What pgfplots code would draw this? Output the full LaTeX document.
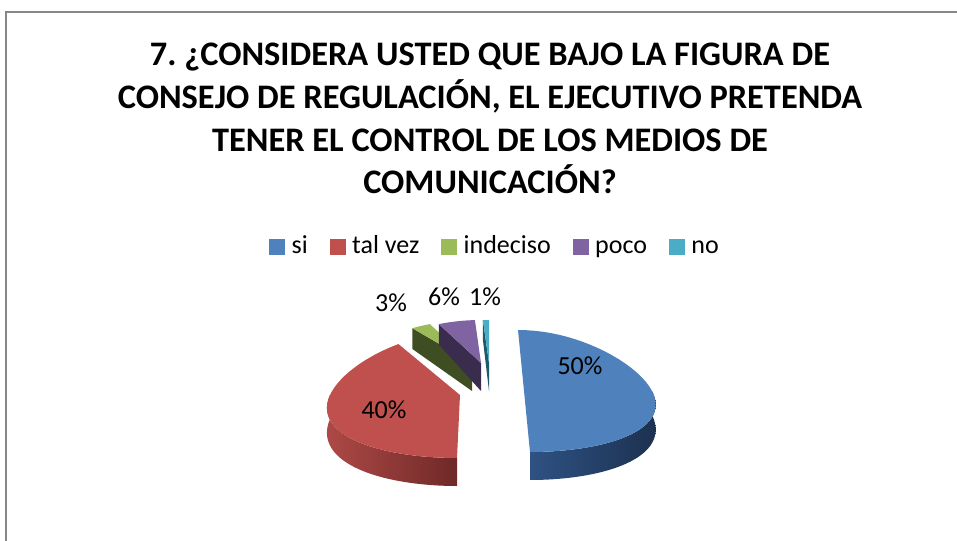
\documentclass[border=0pt]{standalone}
\usepackage{fontspec}
\setmainfont{Carlito}
\usepackage{pgfplots}
\pgfplotsset{compat=1.18}
\definecolor{cblue}{HTML}{4F81BD}
\definecolor{cred}{HTML}{C0504D}
\definecolor{cgreen}{HTML}{9BBB59}
\definecolor{cpurple}{HTML}{8064A2}
\definecolor{ccyan}{HTML}{4BACC6}
\definecolor{cgreenD}{HTML}{3F4D22}
\definecolor{cpurpleD}{HTML}{3A2C4C}
\definecolor{ccyanD}{HTML}{1F5A6A}
\definecolor{bwallL}{HTML}{2E5283}
\definecolor{bwallR}{HTML}{1D3150}
\definecolor{rwallL}{HTML}{AD4946}
\definecolor{rwallR}{HTML}{6F2928}
\definecolor{framegray}{HTML}{878787}
% #1 cx, #2 cy, #3 a, #4 b, #5 start angle, #6 end angle, #7 perspective, #8 skew, #9 style
\newcommand\slicetop[9]{%
\addplot[forget plot, draw=none, #9, variable=\t, samples at={-1,0,1,...,40}]
 ({(\t<0)?(#1):(rx(#1,#3,#7,#8,#5+\t/40*(#6-#5)))},
  {(\t<0)?(#2):(ry(#2,#4,#5+\t/40*(#6-#5)))}) -- cycle;}
\newcommand\slicewall[9]{%
\addplot[forget plot, draw=none, #9, variable=\t, samples at={0,1,...,80}]
 ({rx(#1,#3,#7,#8,wa(\t,#5,#6))},
  {ry(#2,#4,wa(\t,#5,#6))+(\t>40)*hh(wa(\t,#5,#6))}) -- cycle;}
\newcommand\sliceface[9]{%
\addplot[forget plot, draw=none, #9, variable=\t, samples at={0,1,2,3}]
 ({((\t>0.5)&&(\t<2.5))?(rx(#1,#3,#7,#8,#5)):(#1)},
  {(\t<0.5)?(#2):((\t<1.5)?(ry(#2,#4,#5)):((\t<2.5)?(ry(#2,#4,#5)+hh(#5)):(#2+28)))}) -- cycle;}
\newcommand\legbox[1]{\addlegendimage{legend image code/.code={\fill[#1] (0bp,-1bp) rectangle (15bp,14bp);}}}
\begin{document}
\frenchspacing
\begin{tikzpicture}
\begin{axis}[
  at={(0,0)}, anchor=south west,
  width=957bp, height=541bp, scale only axis,
  xmin=0, xmax=957, ymin=0, ymax=541, y dir=reverse,
  hide axis, clip=false,
  declare function={
    rx(\mA,\mB,\mC,\mD,\mE)=\mA+\mB*sin(\mE)*(1-\mC*cos(\mE))-\mD*cos(\mE);
    ry(\mA,\mB,\mE)=\mA-\mB*cos(\mE);
    hh(\mE)=24-4*cos(\mE);
    wa(\mT,\mS,\mF)=(\mT<=40)?(\mS+\mT/40*(\mF-\mS)):(\mF-(\mT-41)/39*(\mF-\mS));
  },
  legend columns=-1,
  legend style={at={(axis cs:494,247)}, anchor=center, draw=none, fill=none,
    font=\fontsize{26bp}{30bp}\selectfont, inner sep=0pt,
    nodes={inner sep=0pt, text height=19bp, text depth=6bp, anchor=base west},
    /tikz/every odd column/.style={column sep=7bp},
    /tikz/every even column/.style={column sep=22bp}},
]
\legbox{cblue}
\addlegendentry{si}
\legbox{cred}
\addlegendentry{tal vez}
\legbox{cgreen}
\addlegendentry{indeciso}
\legbox{cpurple}
\addlegendentry{poco}
\legbox{ccyan}
\addlegendentry{no}

% tal vez 40%
\slicewall{460}{395}{130}{63}{3.6*50}{270}{0.2}{-3}{left color=rwallL, right color=rwallR}
\slicetop{460}{395}{130}{63}{3.6*50}{3.6*90}{0.2}{-3}{fill=cred}
% indeciso 3%
\sliceface{472}{363}{121}{43}{3.6*90}{3.6*93}{0.2}{0}{fill=cgreenD}
\slicetop{472}{363}{121}{43}{3.6*90}{3.6*93}{0.2}{0}{fill=cgreen}
% poco 6%
\sliceface{481}{363}{121}{43}{3.6*93}{3.6*99}{0.2}{0}{fill=cpurpleD}
\slicetop{481}{363}{121}{43}{3.6*93}{3.6*99}{0.2}{0}{fill=cpurple}
% no 1%
\sliceface{489}{363}{121}{43}{3.6*99}{3.6*100}{0.2}{0}{fill=ccyanD}
\slicetop{489}{363}{121}{43}{3.6*99}{3.6*100}{0.2}{0}{fill=ccyan}
% si 50%
\slicewall{524}{391}{128}{61}{90}{3.6*50}{0.2}{6}{left color=bwallL, right color=bwallR}
\slicetop{524}{391}{128}{61}{0}{3.6*50}{0.2}{6}{fill=cblue}

% data labels
\node[font=\fontsize{26bp}{30bp}\selectfont] at (axis cs:580,366) {50\%};
\node[font=\fontsize{26bp}{30bp}\selectfont] at (axis cs:384,410) {40\%};
\node[font=\fontsize{26bp}{30bp}\selectfont] at (axis cs:391,303) {3\%};
\node[font=\fontsize{26bp}{30bp}\selectfont] at (axis cs:444,297) {6\%};
\node[font=\fontsize{26bp}{30bp}\selectfont] at (axis cs:485,297) {1\%};

% title
\node[anchor=base, font=\fontsize{34.4bp}{40bp}\selectfont\bfseries] at (axis cs:490,66) {7.\ ¿CONSIDERA USTED QUE BAJO LA FIGURA DE};
\node[anchor=base, font=\fontsize{34.4bp}{40bp}\selectfont\bfseries] at (axis cs:490,108) {CONSEJO DE REGULACIÓN, EL EJECUTIVO PRETENDA};
\node[anchor=base, font=\fontsize{34.4bp}{40bp}\selectfont\bfseries] at (axis cs:490,151) {TENER EL CONTROL DE LOS MEDIOS DE};
\node[anchor=base, font=\fontsize{34.4bp}{40bp}\selectfont\bfseries] at (axis cs:490,193) {COMUNICACIÓN?};

% chart frame
\draw[line width=2bp, framegray] (axis cs:6,541) -- (axis cs:6,12.5) -- (axis cs:957,12.5);
\end{axis}
\pgfresetboundingbox
\useasboundingbox (0,0) rectangle (957bp,541bp);
\end{tikzpicture}
\end{document}
